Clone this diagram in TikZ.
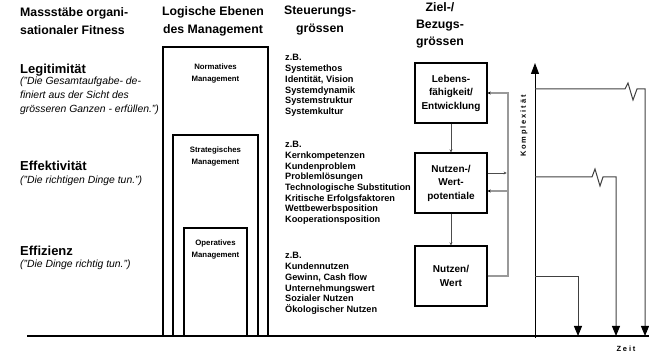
\documentclass[tikz,border=0pt]{standalone}
\usepackage{fontspec}
\setmainfont{Liberation Sans}
\newfontfamily\spacedfont[LetterSpace=25]{Liberation Sans}
\usetikzlibrary{arrows.meta}

\begin{document}
\begin{tikzpicture}[x=1pt,y=-1pt,
  head/.style={font=\fontsize{12.3}{18}\selectfont\bfseries,align=center,inner sep=0},
  measure/.style={font=\fontsize{13}{15}\selectfont\bfseries,anchor=west,inner sep=0},
  quote/.style={font=\fontsize{10.4}{14}\selectfont\itshape,anchor=west,align=left,inner sep=0},
  list/.style={font=\fontsize{9.2}{10.7}\selectfont\bfseries,anchor=west,align=left,inner sep=0},
  level/.style={font=\fontsize{7.8}{12}\selectfont\bfseries,align=center,inner sep=0},
  mgmt/.style={line width=1.2pt},
  goal/.style={draw,line width=1.3pt,minimum width=72,minimum height=60,inner sep=0,
    font=\fontsize{10}{13.5}\selectfont\bfseries,align=center},
  conn/.style={draw=black!70,line width=0.8pt,-{Stealth[length=3pt,width=3pt]}},
  fb/.style={draw=black!40,line width=1.2pt,-{Stealth[length=3pt,width=3pt,black]}},
  curve/.style={draw=black!75,line width=1pt,-{Triangle[length=10pt,width=8pt,black]}},
  axislabel/.style={font=\fontsize{7.5}{9}\selectfont\spacedfont\bfseries,inner sep=0}]

\useasboundingbox (0,0) rectangle (649,355);

% column headings
\node[head,align=left,anchor=west] (hmass) at (20,21) {Massstäbe organi-\\sationaler Fitness};
\node[head] (hlog) at (213,21) {Logische Ebenen\\des Management};
\node[head] (hsteu) at (320,21) {Steuerungs-\\grössen};
\node[head,font=\fontsize{12.3}{17}\selectfont\bfseries] (hziel) at (440,25) {Ziel-/\\Bezugs-\\grössen};

% fitness measures
\node[measure] (legi) at (20,70) {Legitimität};
\node[quote] (legiq) at (20,96) {("Die Gesamtaufgabe- de-\\finiert aus der Sicht des\\grösseren Ganzen - erfüllen.")};
\node[measure] (effe) at (20,166) {Effektivität};
\node[quote] (effeq) at (20,181) {("Die richtigen Dinge tun.")};
\node[measure] (effi) at (20,251) {Effizienz};
\node[quote] (effiq) at (20,265) {("Die Dinge richtig tun.")};

% management levels
\draw[mgmt] (163,47) rectangle (268,336);
\draw[mgmt] (173,135) rectangle (258,336);
\draw[mgmt] (184,228) rectangle (247,336);
\node[level] (norm) at (215.5,73.5) {Normatives\\Management};
\node[level] (strat) at (215.5,157) {Strategisches\\Management};
\node[level] (oper) at (215.5,250) {Operatives\\Management};

% steering variables
\node[list] (list1) at (285,85.5) {z.B.\\Systemethos\\Identität, Vision\\Systemdynamik\\Systemstruktur\\Systemkultur};
\node[list] (list2) at (285,183) {z.B.\\Kernkompetenzen\\Kundenproblem\\Problemlösungen\\Technologische Substitution\\Kritische Erfolgsfaktoren\\Wettbewerbsposition\\Kooperationsposition};
\node[list] (list3) at (285,283.5) {z.B.\\Kundennutzen\\Gewinn, Cash flow\\Unternehmungswert\\Sozialer Nutzen\\Ökologischer Nutzen};

% goal variables
\node[goal] (leb) at (451,93) {Lebens-\\fähigkeit/\\Entwicklung};
\node[goal] (pot) at (451,183) {Nutzen-/\\Wert-\\potentiale};
\node[goal] (wert) at (451,276) {Nutzen/\\Wert};

\draw[conn] (leb) -- (pot);
\draw[conn] (pot) -- (wert);

\coordinate (fbx) at (508,0);
\draw[fb] (wert.east) -| (fbx |- leb.east) -- (leb.east);
\draw[fb] ([yshift=-8pt]pot.east -| fbx) -- ([yshift=-8pt]pot.east);
\draw[conn] ([yshift=10pt]pot.east) -- ++(19,0);

% time axis
\coordinate (bl) at (27,336);
\coordinate (br) at (649,336);
\draw[line width=1.5pt] (bl) -- (br);

\coordinate (ax0) at (535,338);
\coordinate (axtop) at (535,63);
\draw[line width=1pt,-{Triangle[length=11pt,width=8pt]}] (ax0) -- (axtop);

\draw[curve] (535,89) -- (625,89) -- (628,83) -- (633,100) -- (637,89) -- (645,89) -- (645,336);
\draw[curve] (535,177) -- (592,177) -- (595,169) -- (600,186) -- (603,177) -- (616,177) -- (616,336);
\draw[curve] (535,277) -- (578,277) -- (578,336);

\node[axislabel,rotate=90] (komp) at (524,126) {Komplexität};
\node[axislabel] (zeit) at (626,349) {Zeit};

\end{tikzpicture}
\end{document}
